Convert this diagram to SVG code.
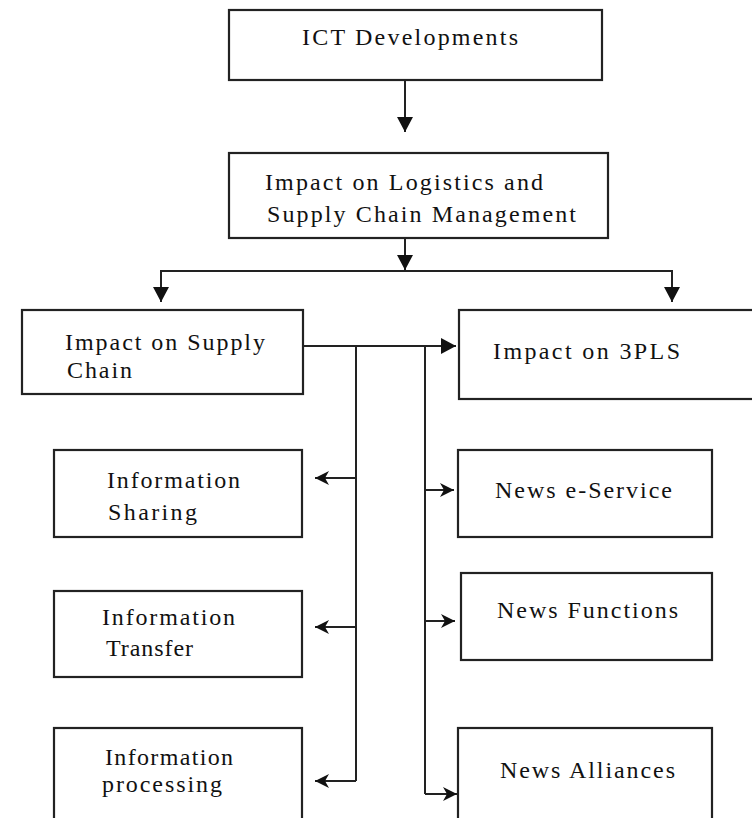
<svg xmlns="http://www.w3.org/2000/svg" width="752" height="818" viewBox="0 0 752 818">
<style>
.box{fill:#fff;stroke:#222;stroke-width:2.2}
.ln{fill:none;stroke:#222;stroke-width:2}
.t{font-family:'Liberation Serif',Tinos,'Times New Roman',Times,serif;font-size:24px;fill:#111}
</style>
<defs>
<marker id="big" markerUnits="userSpaceOnUse" markerWidth="18" markerHeight="16" refX="15" refY="8" orient="auto">
<path d="M0,0 L15,8 L0,16 Z" fill="#111"/>
</marker>
<marker id="small" markerUnits="userSpaceOnUse" markerWidth="16" markerHeight="14" refX="14" refY="7" orient="auto">
<path d="M0,0 L14,7 L0,14 L4,7 Z" fill="#111"/>
</marker>
</defs>
<rect width="752" height="818" fill="#fff"/>
<g id="connectors">
<line class="ln" x1="405" y1="80" x2="405" y2="132" marker-end="url(#big)"/>
<line class="ln" x1="405" y1="238" x2="405" y2="270" marker-end="url(#big)"/>
<polyline class="ln" points="161,302 161,271 672,271 672,302"/>
<line class="ln" x1="161" y1="280" x2="161" y2="302" marker-end="url(#big)"/>
<line class="ln" x1="672" y1="280" x2="672" y2="302" marker-end="url(#big)"/>
<line class="ln" x1="303" y1="346" x2="456" y2="346" marker-end="url(#big)"/>
<line class="ln" x1="356" y1="346" x2="356" y2="781"/>
<line class="ln" x1="425" y1="346" x2="425" y2="794"/>
<line class="ln" x1="356" y1="478" x2="315" y2="478" marker-end="url(#small)"/>
<line class="ln" x1="356" y1="627" x2="315" y2="627" marker-end="url(#small)"/>
<line class="ln" x1="356" y1="781" x2="315" y2="781" marker-end="url(#small)"/>
<line class="ln" x1="425" y1="490" x2="454" y2="490" marker-end="url(#small)"/>
<line class="ln" x1="425" y1="621" x2="455" y2="621" marker-end="url(#small)"/>
<line class="ln" x1="425" y1="794" x2="457" y2="794" marker-end="url(#small)"/>
</g>
<g id="ict">
<rect class="box" x="229" y="10" width="373" height="70"/>
<text class="t" font-family="Liberation Serif" x="302" y="45" textLength="216" lengthAdjust="spacing">ICT Developments</text>
</g>
<g id="impact-logistics">
<rect class="box" x="229" y="153" width="379" height="85"/>
<text class="t" x="265" y="190" textLength="278" lengthAdjust="spacing">Impact on Logistics and</text>
<text class="t" x="267" y="222" textLength="309" lengthAdjust="spacing">Supply Chain Management</text>
</g>
<g id="impact-supply">
<rect class="box" x="22" y="310" width="281" height="84"/>
<text class="t" x="65" y="350" textLength="200" lengthAdjust="spacing">Impact on Supply</text>
<text class="t" x="67" y="378" textLength="65" lengthAdjust="spacing">Chain</text>
</g>
<g id="impact-3pls">
<rect class="box" x="459" y="310" width="300" height="89"/>
<text class="t" x="493" y="359" textLength="187" lengthAdjust="spacing">Impact on 3PLS</text>
</g>
<g id="info-sharing">
<rect class="box" x="54" y="450" width="248" height="87"/>
<text class="t" x="107" y="488" textLength="133" lengthAdjust="spacing">Information</text>
<text class="t" x="108" y="520" textLength="89" lengthAdjust="spacing">Sharing</text>
</g>
<g id="info-transfer">
<rect class="box" x="54" y="591" width="248" height="86"/>
<text class="t" x="102" y="625" textLength="133" lengthAdjust="spacing">Information</text>
<text class="t" x="106" y="656" textLength="87" lengthAdjust="spacing">Transfer</text>
</g>
<g id="info-processing">
<rect class="box" x="54" y="728" width="248" height="100"/>
<text class="t" x="105" y="765" textLength="128" lengthAdjust="spacing">Information</text>
<text class="t" x="102" y="792" textLength="120" lengthAdjust="spacing">processing</text>
</g>
<g id="news-eservice">
<rect class="box" x="458" y="450" width="254" height="87"/>
<text class="t" x="495" y="498" textLength="177" lengthAdjust="spacing">News e-Service</text>
</g>
<g id="news-functions">
<rect class="box" x="461" y="573" width="251" height="87"/>
<text class="t" x="497" y="618" textLength="181" lengthAdjust="spacing">News Functions</text>
</g>
<g id="news-alliances">
<rect class="box" x="458" y="728" width="254" height="100"/>
<text class="t" x="500" y="778" textLength="175" lengthAdjust="spacing">News Alliances</text>
</g>
</svg>
